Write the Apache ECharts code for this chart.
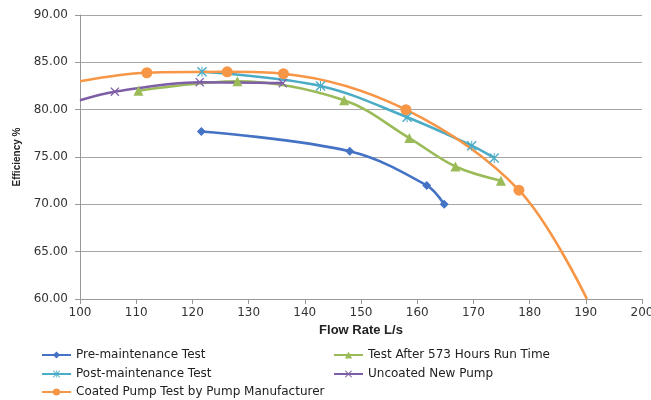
<!DOCTYPE html>
<html><head><meta charset="utf-8">
<script src="https://cdn.jsdelivr.net/npm/echarts@6/dist/echarts.min.js"></script>
<style>html,body{margin:0;padding:0;background:#fff}#c{width:651px;height:400px}</style>
</head><body><div id="c"></div>
<script>
const preX = [121.6, 148.0, 161.7, 164.8];
const preY = [77.7, 75.6, 72.0, 70.0];
const testX = [110.4, 128.0, 147.0, 158.6, 166.8, 174.9];
const testY = [82.0, 83.0, 81.0, 77.0, 74.0, 72.5];
const postX = [121.7, 142.8, 158.2, 169.7, 173.7];
const postY = [84.0, 82.5, 79.2, 76.2, 74.9];
const uncX = [100.0, 106.2, 121.3, 136.1];
const uncY = [81.0, 81.9, 82.9, 82.8];
const coatX = [100.0, 111.9, 126.2, 136.2, 158.0, 178.1, 190.2];
const coatY = [83.0, 83.9, 84.0, 83.8, 80.0, 71.5, 60.0];
const seriesNames = ['Pre-maintenance Test','Test After 573 Hours Run Time','Post-maintenance Test','Uncoated New Pump','Coated Pump Test by Pump Manufacturer'];
const xTicks = {min:100, max:200, interval:10};
const yTicks = {min:60, max:90, interval:5};

const xSym = 'path://M0,1L1,0L5,4L9,0L10,1L6,5L10,9L9,10L5,6L1,10L0,9L4,5Z';
const starSym = 'path://M0,1L1,0L4.5,3.5L4.5,0L5.5,0L5.5,3.5L9,0L10,1L6,5L10,9L9,10L5.5,6.5L5.5,10L4.5,10L4.5,6.5L1,10L0,9L4,5Z';

function pairs(xs, ys, hideFirst, hideLast){
  return xs.map((x,i)=>{
    const d = {value:[x, ys[i]]};
    if ((hideFirst && i===0) || (hideLast && i===xs.length-1)) d.symbol='none';
    return d;
  });
}
const colors = ['#4472C4','#9BBB59','#4BACC6','#7E5FA6','#F79646'];
const legendPos = [[41,349],[333,349],[41,368],[333,368],[41,386]];
const chart = echarts.init(document.getElementById('c'));
const common = {type:'line', smooth:0.35, lineStyle:{width:2.6}, showSymbol:true, animation:false, z:2};
chart.setOption({
  animation:false,
  textStyle:{fontFamily:'DejaVu Sans'},
  grid:{left:80, right:9, top:15, bottom:101, outerBoundsMode:'none', containLabel:false},
  xAxis:{type:'value', min:xTicks.min, max:xTicks.max, interval:xTicks.interval,
    name:'Flow Rate L/s', nameLocation:'middle', nameGap:23,
    nameTextStyle:{fontFamily:'Liberation Sans', fontWeight:'bold', fontSize:13, color:'#222'},
    axisLine:{lineStyle:{color:'#999'}}, axisTick:{show:true, length:5, lineStyle:{color:'#999'}},
    axisLabel:{fontSize:12, color:'#333', margin:8}, splitLine:{show:false}},
  yAxis:{type:'value', min:yTicks.min, max:yTicks.max, interval:yTicks.interval,
    name:'Efficiency %', nameLocation:'middle', nameGap:56, nameRotate:90,
    nameTextStyle:{fontFamily:'Liberation Sans', fontWeight:'bold', fontSize:10, color:'#222'},
    axisLine:{show:true, lineStyle:{color:'#999'}}, axisTick:{show:true, length:5, lineStyle:{color:'#999'}},
    axisLabel:{fontSize:12, color:'#333', margin:12, formatter:v=>v.toFixed(2)},
    splitLine:{lineStyle:{color:'#a6a6a6', width:1}}},
  legend: seriesNames.map((n,i)=>({left:legendPos[i][0], top:legendPos[i][1], itemWidth:29, itemHeight:9,
     padding:0, textStyle:{fontSize:12, color:'#222'}, data:[n]})),
  series:[
    Object.assign({}, common, {name:seriesNames[0], color:colors[0], symbol:'diamond', symbolSize:9, data:pairs(preX, preY)}),
    Object.assign({}, common, {name:seriesNames[1], color:colors[1], symbol:'triangle', symbolSize:10, data:pairs(testX, testY)}),
    Object.assign({}, common, {name:seriesNames[2], color:colors[2], symbol:starSym, symbolSize:10, data:pairs(postX, postY)}),
    Object.assign({}, common, {name:seriesNames[3], color:colors[3], symbol:xSym, symbolSize:9, data:pairs(uncX, uncY, true)}),
    Object.assign({}, common, {name:seriesNames[4], color:colors[4], symbol:'circle', symbolSize:11, data:pairs(coatX, coatY, true, true)})
  ]
});
</script></body></html>
